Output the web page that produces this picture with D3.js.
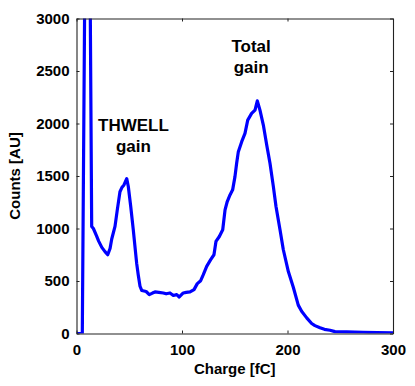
<!DOCTYPE html>
<html>
<head>
<meta charset="utf-8">
<script src="https://cdn.jsdelivr.net/npm/d3@7"></script>
<style>
  html, body { margin: 0; padding: 0; background: #fff; }
  svg { display: block; font-family: "Liberation Sans", Arial, sans-serif; font-weight: bold; }
</style>
</head>
<body>
<div id="chart"></div>
<script>
// charge [fC] and counts [AU]
const charge = [0, 5.5, 10.5, 14.4, 16, 19, 21, 24, 27, 29.6, 31.8, 33.4, 36.5, 38.7, 41.2, 43, 45, 47.6,
  49.1, 51.4, 53.8, 57, 58.5, 60.2, 61.8, 64, 66, 69, 72, 74.4, 78, 82.3, 85, 88.6, 91.8, 95, 97.4,
  101.2, 104, 107.6, 111.4, 114.5, 117.7, 120.2, 123.4, 127.2, 130.3, 132.2, 135.4, 138.6, 140.8,
  142.9, 145.5, 148, 150.2, 151.8, 153.4, 156.6, 159.7, 162.3, 166, 169.2, 171.4, 173.9, 177.1,
  180.3, 183.4, 186.6, 189.1, 192.9, 196, 200.8, 205.5, 210.2, 213.4, 218.2, 222.9, 226, 230.8,
  235, 240.3, 245, 256, 271.8, 285, 300];
const counts = [0, 0, 7000, 1020, 1000, 930, 880, 820, 780, 750, 810, 900, 1020, 1180, 1350, 1390, 1415, 1475,
  1400, 1210, 990, 670, 560, 450, 410, 405, 400, 370, 385, 396, 392, 386, 378, 386, 362, 370, 348,
  386, 392, 396, 418, 475, 503, 560, 639, 703, 750, 877, 924, 988, 1178,
  1257, 1320, 1368, 1494, 1621, 1732, 1827, 1906, 2032, 2096, 2127, 2216, 2127, 1985,
  1795, 1621, 1399, 1209, 988, 800, 590, 440, 270, 212, 149, 95, 75, 54,
  40, 31, 18, 16, 12, 8, 6];

const xTicks = [0, 100, 200, 300];
const yTicks = [0, 500, 1000, 1500, 2000, 2500, 3000];

const annotations = [
  { x: 54, y: 1930, lines: ["THWELL", "gain"] },
  { x: 165.5, y: 2680, lines: ["Total", "gain"] }
];

const width = 415, height = 386;
const margin = { top: 18.5, right: 22, bottom: 52.5, left: 76.5 };
const innerW = width - margin.left - margin.right;
const innerH = height - margin.top - margin.bottom;

const svg = d3.select("#chart").append("svg")
  .attr("width", width)
  .attr("height", height);

const g = svg.append("g")
  .attr("transform", `translate(${margin.left},${margin.top})`);

const x = d3.scaleLinear().domain([0, 300]).range([0, innerW]);
const y = d3.scaleLinear().domain([0, 3000]).range([innerH, 0]);

g.append("clipPath").attr("id", "plot-clip")
  .append("rect").attr("width", innerW).attr("height", innerH);

const data = charge.map((c, i) => ({ c, n: counts[i] }));

const line = d3.line().x(d => x(d.c)).y(d => y(d.n));

g.append("path")
  .datum(data)
  .attr("clip-path", "url(#plot-clip)")
  .attr("fill", "none")
  .attr("stroke", "#0000ff")
  .attr("stroke-width", 3.2)
  .attr("stroke-linejoin", "round")
  .attr("d", line);

// axes with inward ticks on all four sides
const tickLen = 3;
const fmt = d3.format("d");
const axStyle = sel => {
  sel.select(".domain").attr("stroke", "#222").attr("stroke-width", 1.1);
  sel.selectAll(".tick line").attr("stroke", "#222");
  sel.selectAll("text").attr("fill", "#000").style("font-size", "15px").style("font-weight", "bold");
};

g.append("g")
  .attr("transform", `translate(0,${innerH})`)
  .call(d3.axisBottom(x).tickValues(xTicks).tickFormat(fmt).tickSizeInner(-tickLen).tickSizeOuter(0).tickPadding(11))
  .call(axStyle);

g.append("g")
  .call(d3.axisTop(x).tickValues(xTicks).tickSizeInner(-tickLen).tickSizeOuter(0).tickFormat(""))
  .call(axStyle);

g.append("g")
  .call(d3.axisLeft(y).tickValues(yTicks).tickFormat(fmt).tickSizeInner(-tickLen).tickSizeOuter(0).tickPadding(7))
  .call(axStyle);

g.append("g")
  .attr("transform", `translate(${innerW},0)`)
  .call(d3.axisRight(y).tickValues(yTicks).tickSizeInner(-tickLen).tickSizeOuter(0).tickFormat(""))
  .call(axStyle);

// axis titles
svg.append("text")
  .attr("x", margin.left + innerW / 2)
  .attr("y", 374)
  .attr("text-anchor", "middle")
  .style("font-size", "15px")
  .text("Charge [fC]");

svg.append("text")
  .attr("transform", `translate(20,${margin.top + innerH / 2}) rotate(-90)`)
  .attr("text-anchor", "middle")
  .style("font-size", "15px")
  .text("Counts [AU]");

// peak labels
annotations.forEach(a => {
  const t = g.append("text")
    .attr("x", x(a.x))
    .attr("y", y(a.y))
    .attr("text-anchor", "middle")
    .style("font-size", "17px");
  a.lines.forEach((s, i) => {
    t.append("tspan").attr("x", x(a.x)).attr("dy", i === 0 ? 0 : 21).text(s);
  });
});
</script>
</body>
</html>
